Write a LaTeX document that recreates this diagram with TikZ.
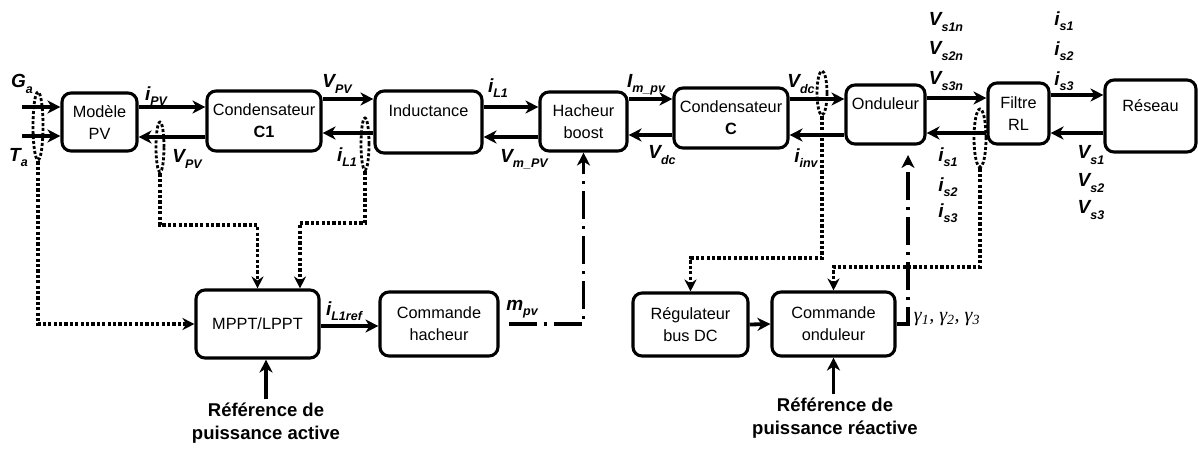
\documentclass[tikz,border=0pt]{standalone}
\usepackage{fontspec}
\setmainfont{Liberation Sans}
\newfontfamily\gamfont{Liberation Serif}
\usetikzlibrary{arrows.meta,shapes.geometric}
\newcommand\sig[2]{{\fontsize{19}{19}\selectfont\bfseries\itshape #1}\raisebox{-5.5pt}{\fontsize{12.5}{12.5}\selectfont\bfseries\itshape #2}}
\tikzset{
 box/.style={draw, line width=3.1pt, rounded corners=9pt, align=center, inner sep=0pt, font=\fontsize{16.3}{22}\selectfont},
 arr/.style={line width=3.8pt, -{Stealth[length=13pt,width=13pt,inset=4pt]}},
 dotarr/.style={line width=3.4pt, dash pattern=on 3.2pt off 2.2pt, -{Stealth[length=12pt,width=12pt,inset=4pt]}},
 dotell/.style={ellipse, draw, line width=2.8pt, dash pattern=on 3pt off 2pt, inner sep=0pt},
 dashdot/.style={line width=3.4pt, dash pattern=on 28pt off 7pt on 3pt off 7pt},
 lab/.style={inner sep=0pt},
 refl/.style={align=center, font=\fontsize{18.5}{23}\selectfont\bfseries}
}
\begin{document}
\begin{tikzpicture}[x=1pt,y=-1pt]
\useasboundingbox (0,0) rectangle (1198,448);
% boxes
\node[box, minimum width=75pt, minimum height=58pt] (pv) at (99.5,122) {Modèle\\PV};
\node[box, minimum width=114pt, minimum height=60pt] (c1) at (264,121) {Condensateur\\\textbf{C1}};
\node[box, minimum width=107pt, minimum height=62pt] (ind) at (428.5,122) {Inductance\\\mbox{}};
\node[box, minimum width=87pt, minimum height=59pt] (hach) at (583.5,121.5) {Hacheur\\boost};
\node[box, minimum width=114pt, minimum height=60pt] (cc) at (731,118) {Condensateur\\\textbf{C}};
\node[box, minimum width=79pt, minimum height=59pt] (ond) at (885.5,114.5) {Onduleur\\\mbox{}};
\node[box, minimum width=61pt, minimum height=61pt] (filt) at (1018.5,113.5) {Filtre\\RL};
\node[box, minimum width=91pt, minimum height=72pt] (res) at (1150.5,116) {Réseau\\\mbox{}};
\node[box, minimum width=123pt, minimum height=68pt] (mppt) at (257.5,324) {MPPT/LPPT};
\node[box, minimum width=118pt, minimum height=64pt] (cmdh) at (439,324) {Commande\\hacheur};
\node[box, minimum width=115pt, minimum height=63pt] (reg) at (690.5,324.5) {Régulateur\\bus DC};
\node[box, minimum width=123pt, minimum height=64pt] (cmdo) at (833.5,324) {Commande\\onduleur};
% free ends
\coordinate (ga) at (22,107);
\coordinate (ta) at (22,136);
\coordinate (ondin) at (908,155);
% main power flow arrows
\draw[arr] (ga) -- (pv.west |- ga);
\draw[arr] (ta) -- (pv.west |- ta);
\draw[arr] (pv.east |- 0,107) -- (c1.west |- 0,107);
\draw[arr] (c1.west |- 0,137) -- (pv.east |- 0,137);
\draw[arr] (c1.east |- 0,99) -- (ind.west |- 0,99);
\draw[arr] (ind.west |- 0,133) -- (c1.east |- 0,133);
\draw[arr] (ind.east |- 0,107) -- (hach.west |- 0,107);
\draw[arr] (hach.west |- 0,137) -- (ind.east |- 0,137);
\draw[arr] (hach.east |- 0,99) -- (cc.west |- 0,99);
\draw[arr] (cc.west |- 0,135) -- (hach.east |- 0,135);
\draw[arr] (cc.east |- 0,99) -- (ond.west |- 0,99);
\draw[arr] (ond.west |- 0,135) -- (cc.east |- 0,135);
\draw[arr] (ond.east |- 0,98) -- (filt.west |- 0,98);
\draw[arr] (filt.west |- 0,133) -- (ond.east |- 0,133);
\draw[arr] (filt.east |- 0,95) -- (res.west |- 0,95);
\draw[arr] (res.west |- 0,133) -- (filt.east |- 0,133);
% measurement taps
\node[dotell, minimum width=10pt, minimum height=68pt] (e1) at (38,126) {};
\node[dotell, minimum width=8pt, minimum height=50pt] (e2) at (160,147) {};
\node[dotell, minimum width=8pt, minimum height=52pt] (e3) at (365,144) {};
\node[dotell, minimum width=10pt, minimum height=44pt] (e4) at (822,93) {};
\node[dotell, minimum width=12pt, minimum height=58pt] (e5) at (980,138) {};
\draw[dotarr] (e1.south) |- (mppt.west);
\draw[dotarr] (e2.south) |- (mppt.north |- 0,225) -- (mppt.north);
\draw[dotarr] (e3.south) |- (300,223) -- (mppt.north -| 300,0);
\draw[dotarr] (e4.south) |- (reg.north |- 0,258) -- (reg.north);
\draw[dotarr] (e5.south) |- (cmdo.north |- 0,267) -- (cmdo.north);
% control arrows
\draw[arr] (mppt.east |- 0,326) -- (cmdh.west |- 0,326);
\draw[arr] (reg.east) -- (cmdo.west);
\draw[dashdot, -{Stealth[length=13pt,width=13pt,inset=4pt]}] ([xshift=9pt]cmdh.east) -| (hach.south);
\draw[dashdot, -{Stealth[length=13pt,width=13pt,inset=4pt]}] (cmdo.east) -| (ondin);
% references
\node[refl] (refa) at (266,423) {Référence de\\puissance active};
\node[refl] (refr) at (835,418) {Référence de\\puissance réactive};
\draw[arr] (refa.north) -- (refa.north |- mppt.south);
\draw[arr] (refr.north -| cmdo.south) -- (cmdo.south);
% labels
\node[lab] (lga) at (22,84) {\sig{G}{a}};
\node[lab] (lta) at (18.5,157.5) {\sig{T}{a}};
\node[lab] (lipv) at (156,96) {\sig{i}{PV}};
\node[lab] (lvpv1) at (187,159) {\sig{V}{PV}};
\node[lab] (lvpv2) at (337,84) {\sig{V}{PV}};
\node[lab] (lil1a) at (347,157) {\sig{i}{L1}};
\node[lab] (lil1b) at (498,88) {\sig{i}{L1}};
\node[lab] (lvmpv) at (524,159) {\sig{V}{m\_PV}};
\node[lab] (limpv) at (646,85) {\sig{I}{m\_pv}};
\node[lab] (lvdc1) at (662,155) {\sig{V}{dc}};
\node[lab] (lvdc2) at (801,84) {\sig{V}{dc}};
\node[lab] (liinv) at (806,158) {\sig{i}{inv}};
\node[lab] (lvs1n) at (946,22) {\sig{V}{s1n}};
\node[lab] (lvs2n) at (946,51) {\sig{V}{s2n}};
\node[lab] (lvs3n) at (946,81) {\sig{V}{s3n}};
\node[lab] (lis1a) at (1064,21) {\sig{i}{s1}};
\node[lab] (lis2a) at (1064,51) {\sig{i}{s2}};
\node[lab] (lis3a) at (1064,81) {\sig{i}{s3}};
\node[lab] (lvs1) at (1091,155) {\sig{V}{s1}};
\node[lab] (lvs2) at (1091,183) {\sig{V}{s2}};
\node[lab] (lvs3) at (1091,210) {\sig{V}{s3}};
\node[lab] (lis1b) at (948,157) {\sig{i}{s1}};
\node[lab] (lis2b) at (948,187) {\sig{i}{s2}};
\node[lab] (lis3b) at (948,213) {\sig{i}{s3}};
\node[lab] (lil1ref) at (344,311) {\sig{i}{L1ref}};
\node[lab] (lmpv) at (522,309) {\sig{m}{pv}};
\node[lab] (lgam) at (947,319) {\fontsize{20}{20}\selectfont\gamfont\itshape γ\textsubscript{1}, γ\textsubscript{2}, γ\textsubscript{3}};
\end{tikzpicture}
\end{document}
